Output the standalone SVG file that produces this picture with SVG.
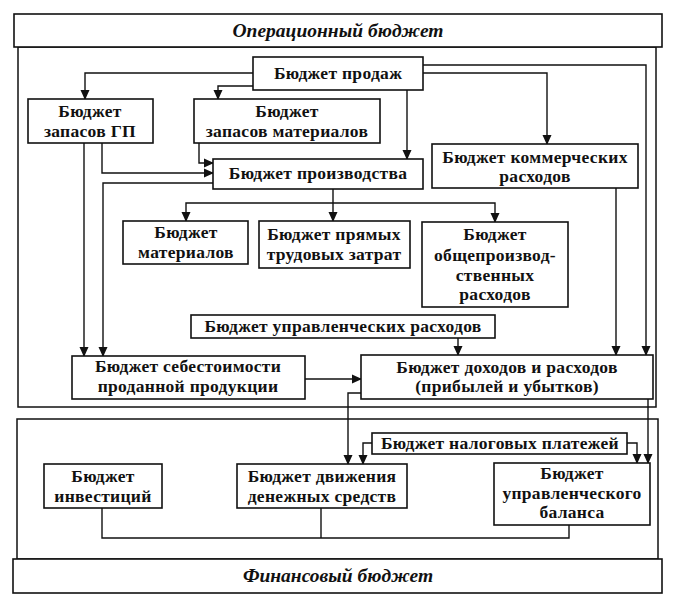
<svg xmlns="http://www.w3.org/2000/svg" width="675" height="607" viewBox="0 0 675 607">
<defs>
<marker id="ah" markerWidth="10" markerHeight="10" refX="9" refY="5" orient="auto" markerUnits="userSpaceOnUse">
<path d="M0,0.5 L10,5 L0,9.5 Z" fill="#111"/>
</marker>
<style>
.box{fill:#fff;stroke:#111;stroke-width:1.6}
.frame{fill:none;stroke:#111;stroke-width:1.5}
.t{font-family:"Liberation Serif","Times New Roman",serif;font-weight:bold;font-size:17.5px;letter-spacing:0.3px;fill:#111;text-anchor:middle}
.h{font-family:"Liberation Serif","Times New Roman",serif;font-weight:bold;font-style:italic;font-size:19.5px;fill:#111;text-anchor:middle}
.c{fill:none;stroke:#111;stroke-width:1.4}
.a{marker-end:url(#ah)}
</style>
</defs>
<rect width="675" height="607" fill="#fff"/>
<g id="frames">
<rect class="frame" x="18" y="47" width="638" height="360"/>
<rect class="frame" x="17" y="419" width="641" height="140"/>
</g>
<g id="header-operational">
<rect class="box" x="14" y="14" width="648" height="33"/>
<text class="h" x="338" y="37">Операционный бюджет</text>
</g>
<g id="header-financial">
<rect class="box" x="13" y="559" width="649" height="34"/>
<text class="h" x="338" y="582">Финансовый бюджет</text>
</g>
<g id="connectors">
<polyline class="c a" points="253,73 85,73 85,99"/>
<polyline class="c a" points="253,86 218,86 218,99"/>
<polyline class="c a" points="407,90 407,159"/>
<polyline class="c a" points="423,73 547,73 547,144"/>
<polyline class="c a" points="423,65 646,65 646,355"/>
<polyline class="c a" points="199,143 199,163 213,163"/>
<polyline class="c a" points="102,143 102,173 213,173"/>
<polyline class="c a" points="213,183 103,183 103,356"/>
<polyline class="c a" points="84,143 84,356"/>
<polyline class="c a" points="333,189 333,221"/>
<polyline class="c a" points="333,203 186,203 186,221"/>
<polyline class="c a" points="333,203 495,203 495,222"/>
<polyline class="c a" points="616,188 616,355"/>
<polyline class="c a" points="458,338 458,355"/>
<polyline class="c a" points="305,379 361,379"/>
<polyline class="c a" points="361,393 348,393 348,464"/>
<polyline class="c a" points="648,399 648,463"/>
<polyline class="c a" points="372,443 363,443 363,464"/>
<polyline class="c a" points="627,443 637,443 637,463"/>
<polyline class="c" points="102,508 102,538 569,538 569,525"/>
<polyline class="c" points="321,508 321,538"/>
</g>
<g id="n-prodazh">
<rect class="box" x="253" y="57" width="170" height="33"/>
<text class="t" x="338" y="79">Бюджет продаж</text>
</g>
<g id="n-zapasy-gp">
<rect class="box" x="28" y="99" width="125" height="44"/>
<text class="t" x="90" y="117">Бюджет</text>
<text class="t" x="90" y="137">запасов ГП</text>
</g>
<g id="n-zapasy-mat">
<rect class="box" x="194" y="99" width="186" height="44"/>
<text class="t" x="287" y="117">Бюджет</text>
<text class="t" x="287" y="137">запасов материалов</text>
</g>
<g id="n-proizvodstvo">
<rect class="box" x="213" y="159" width="210" height="30"/>
<text class="t" x="318" y="179">Бюджет производства</text>
</g>
<g id="n-kommerch">
<rect class="box" x="432" y="144" width="206" height="44"/>
<text class="t" x="535" y="163">Бюджет коммерческих</text>
<text class="t" x="535" y="182">расходов</text>
</g>
<g id="n-materialy">
<rect class="box" x="123" y="221" width="125" height="43"/>
<text class="t" x="186" y="238">Бюджет</text>
<text class="t" x="186" y="258">материалов</text>
</g>
<g id="n-trud">
<rect class="box" x="259" y="221" width="151" height="47"/>
<text class="t" x="334" y="240">Бюджет прямых</text>
<text class="t" x="334" y="260">трудовых затрат</text>
</g>
<g id="n-obshepr">
<rect class="box" x="422" y="222" width="146" height="85"/>
<text class="t" x="495" y="240">Бюджет</text>
<text class="t" x="495" y="261">общепроизвод-</text>
<text class="t" x="495" y="281">ственных</text>
<text class="t" x="495" y="300">расходов</text>
</g>
<g id="n-upravl">
<rect class="box" x="191" y="315" width="304" height="23"/>
<text class="t" x="343" y="332">Бюджет управленческих расходов</text>
</g>
<g id="n-sebest">
<rect class="box" x="72" y="356" width="233" height="43"/>
<text class="t" x="188" y="372">Бюджет себестоимости</text>
<text class="t" x="188" y="392">проданной продукции</text>
</g>
<g id="n-dohody">
<rect class="box" x="361" y="355" width="292" height="44"/>
<text class="t" x="507" y="373">Бюджет доходов и расходов</text>
<text class="t" x="507" y="392">(прибылей и убытков)</text>
</g>
<g id="n-nalog">
<rect class="box" x="372" y="433" width="255" height="21"/>
<text class="t" x="500" y="449">Бюджет налоговых платежей</text>
</g>
<g id="n-invest">
<rect class="box" x="44" y="464" width="118" height="44"/>
<text class="t" x="103" y="482">Бюджет</text>
<text class="t" x="103" y="502">инвестиций</text>
</g>
<g id="n-dds">
<rect class="box" x="237" y="464" width="170" height="44"/>
<text class="t" x="322" y="482">Бюджет движения</text>
<text class="t" x="322" y="502">денежных средств</text>
</g>
<g id="n-balans">
<rect class="box" x="494" y="463" width="156" height="62"/>
<text class="t" x="572" y="479">Бюджет</text>
<text class="t" x="572" y="499">управленческого</text>
<text class="t" x="572" y="518">баланса</text>
</g>
</svg>
